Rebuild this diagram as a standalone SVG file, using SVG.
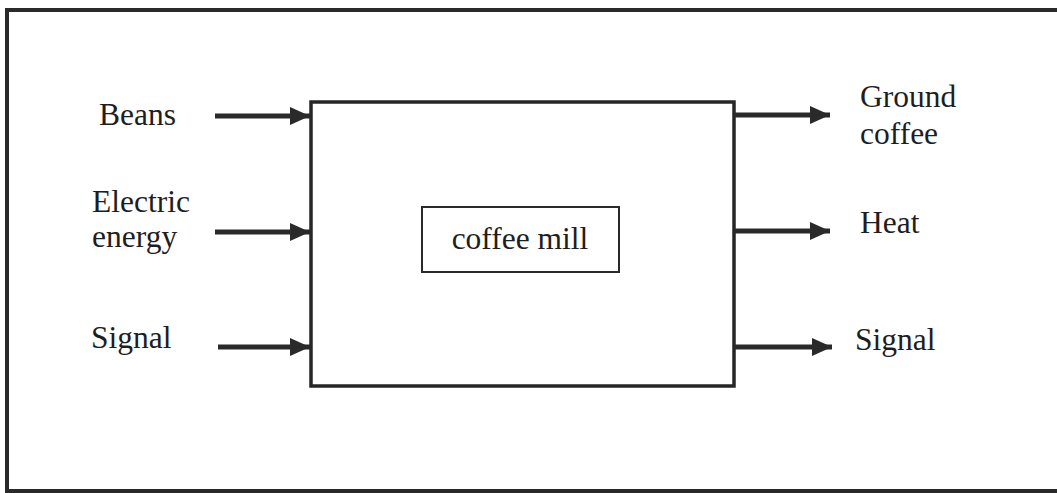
<svg xmlns="http://www.w3.org/2000/svg" width="1057" height="493" viewBox="0 0 1057 493">
<style>
text{font-family:"Liberation Serif","Times New Roman",serif;font-size:31.5px;fill:#1e1e1e}
.box{fill:none;stroke:#262626;stroke-width:3.5}
.arr{stroke:#2a2a2a;stroke-width:5;fill:none;marker-end:url(#ah)}
</style>
<defs>
<marker id="ah" markerUnits="userSpaceOnUse" markerWidth="22" markerHeight="18" refX="20" refY="9" orient="auto">
<path d="M0,0 L20,9 L0,18 Z" fill="#2a2a2a"/>
</marker>
</defs>
<rect width="1057" height="493" fill="#fff"/>
<g id="frame">
<path d="M1057,10 L7,10 L7,491 L1057,491" fill="none" stroke="#2a2a2a" stroke-width="4"/>
</g>
<g id="mill">
<rect class="box" x="311" y="102" width="423" height="284"/>
<rect x="422" y="207" width="197" height="65" fill="none" stroke="#2a2a2a" stroke-width="2"/>
<text x="520" y="249" text-anchor="middle">coffee mill</text>
</g>
<g id="connectors">
<line class="arr" x1="215" y1="116" x2="310" y2="116"/>
<line class="arr" x1="215" y1="232" x2="310" y2="232"/>
<line class="arr" x1="218" y1="347" x2="310" y2="347"/>
<line class="arr" x1="734" y1="115" x2="830" y2="115"/>
<line class="arr" x1="734" y1="231" x2="830" y2="231"/>
<line class="arr" x1="734" y1="347" x2="832" y2="347"/>
</g>
<g id="in-beans"><text x="99" y="125">Beans</text></g>
<g id="in-energy"><text x="92" y="212">Electric</text><text x="92" y="247">energy</text></g>
<g id="in-signal"><text x="91" y="348">Signal</text></g>
<g id="out-ground"><text x="860" y="107">Ground</text><text x="860" y="144">coffee</text></g>
<g id="out-heat"><text x="860" y="233">Heat</text></g>
<g id="out-signal"><text x="855" y="350">Signal</text></g>
</svg>
